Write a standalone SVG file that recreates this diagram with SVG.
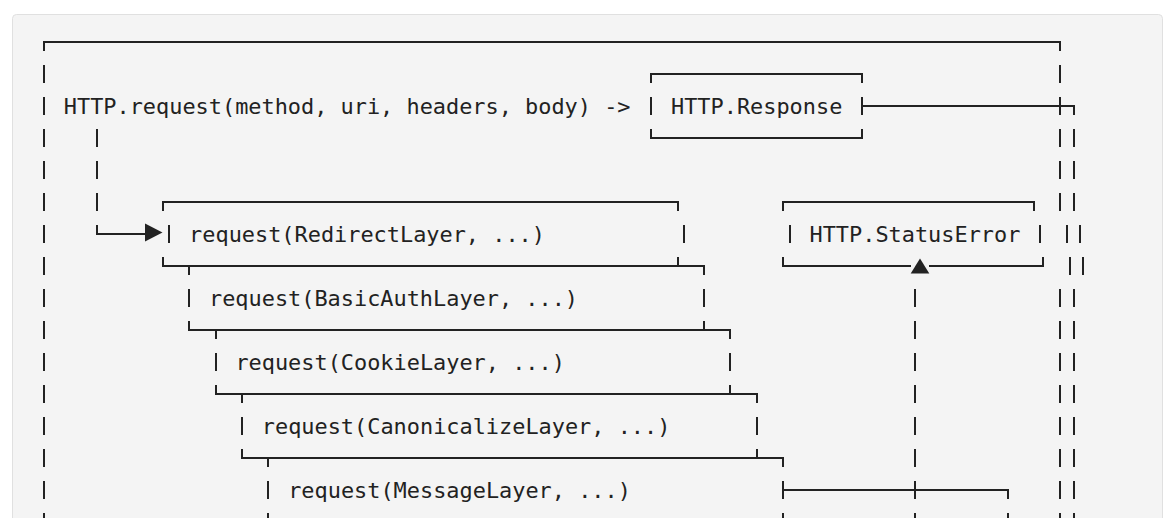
<svg xmlns="http://www.w3.org/2000/svg" width="1174" height="518" viewBox="0 0 1174 518">
<style>
.ln{fill:none;stroke:#222;stroke-width:2;stroke-linecap:butt;stroke-linejoin:miter}
.dash{fill:none;stroke:#222;stroke-width:2;stroke-dasharray:18 14}
.t{font-family:"DejaVu Sans Mono","Liberation Mono",monospace;font-size:21.9px;fill:#222}
.ah{fill:#222;stroke:none}
</style>
<rect x="0" y="0" width="1174" height="518" fill="#ffffff"/>
<rect x="12.5" y="14.5" width="1150" height="540" rx="4" fill="#f4f4f4" stroke="#e0e0e0"/>

<g id="outer-frame">
  <path class="ln" d="M44,51 V42 H1060 V51"/>
  <line class="dash" x1="44" y1="65" x2="44" y2="531"/>
  <line class="dash" x1="1060" y1="65" x2="1060" y2="211"/>
  <path class="ln" d="M1067,225 V243 M1070,257 V275"/>
  <line class="dash" x1="1060" y1="289" x2="1060" y2="531"/>
  <text class="t" x="63.8" y="113.5">HTTP.request(method, uri, headers, body) -&gt;</text>
</g>

<g id="http-response">
  <path class="ln" d="M651,83 V74 H862 V83"/>
  <path class="ln" d="M651,97 V115 M862,97 V115"/>
  <path class="ln" d="M651,129 V138 H862 V129"/>
  <text class="t" x="671" y="113.5">HTTP.Response</text>
</g>

<g id="redirect-layer">
  <path class="ln" d="M163,211 V202 H678 V211"/>
  <path class="ln" d="M169,225 V243 M684,225 V243"/>
  <text class="t" x="189.1" y="241.5">request(RedirectLayer, ...)</text>
</g>

<g id="basicauth-layer">
  <path class="ln" d="M163,257 V266 H704 V275 M189,266 V275 M678,266 V257"/>
  <path class="ln" d="M189,289 V307 M704,289 V307"/>
  <text class="t" x="209" y="305.5">request(BasicAuthLayer, ...)</text>
</g>

<g id="cookie-layer">
  <path class="ln" d="M189,321 V330 H730 V339 M216,330 V339 M704,330 V321"/>
  <path class="ln" d="M216,353 V371 M730,353 V371"/>
  <text class="t" x="235.4" y="369.5">request(CookieLayer, ...)</text>
</g>

<g id="canonicalize-layer">
  <path class="ln" d="M216,385 V394 H757 V403 M242,394 V403 M730,394 V385"/>
  <path class="ln" d="M242,417 V435 M757,417 V435"/>
  <text class="t" x="261.8" y="433.5">request(CanonicalizeLayer, ...)</text>
</g>

<g id="message-layer">
  <path class="ln" d="M242,449 V458 H783 V467 M268,458 V467 M757,458 V449"/>
  <path class="ln" d="M268,481 V499 M783,481 V499 M268,513 V531 M783,513 V531"/>
  <text class="t" x="288.2" y="497.5">request(MessageLayer, ...)</text>
</g>

<g id="status-error">
  <path class="ln" d="M783,211 V202 H1034 V211"/>
  <path class="ln" d="M790,225 V243 M1040,225 V243"/>
  <path class="ln" d="M783,257 V266 H911 M929,266 H1043 V257"/>
  <text class="t" x="809.5" y="241.5">HTTP.StatusError</text>
</g>

<g id="connectors">
  <line class="dash" x1="97" y1="129" x2="97" y2="211"/>
  <path class="ln" d="M97,225 V234 H146"/>
  <polygon class="ah" points="145,223.5 162.5,232.5 145,241.5"/>
  <path class="ln" d="M862,106 H1074 V115"/>
  <line class="dash" x1="1074" y1="129" x2="1074" y2="211"/>
  <path class="ln" d="M1080,225 V243 M1083,257 V275"/>
  <line class="dash" x1="1074" y1="289" x2="1074" y2="531"/>
  <polygon class="ah" points="910.7,273.5 920,258.5 929.3,273.5"/>
  <line class="dash" x1="915" y1="289" x2="915" y2="531"/>
  <path class="ln" d="M783,490 H1008 V499 M1008,513 V531"/>
</g>
</svg>
